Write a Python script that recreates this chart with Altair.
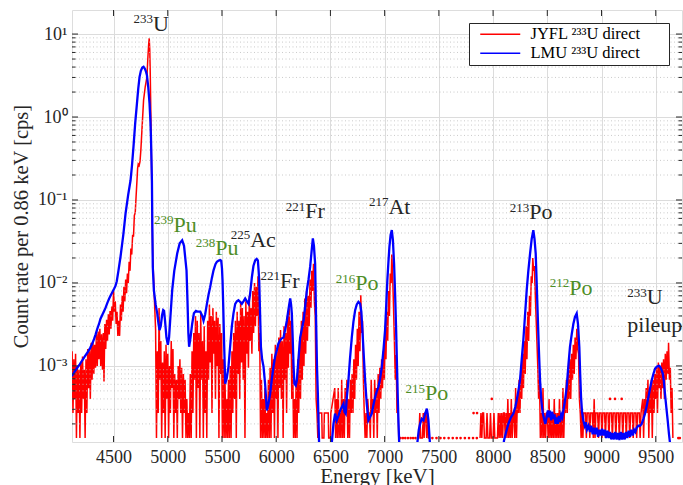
import altair as alt
import pandas as pd

FONT = "Liberation Serif"
RED = "#ff0000"
BLUE = "#0000ff"
GREEN = "#4d8d26"
INK = "#262626"

W, H = 610, 432
XDOM = [4117, 9742]
YDOM = [1.21e-4, 19.5]

series_names = ["JYFL ²³³U direct", "LMU ²³³U direct"]

# ---------------- JYFL (red) spectrum, (energy keV, rate cps) ----------------
red_seg1 = [
    (4118, 1.5e-3), (4126, 2.7e-4), (4134, 1.2e-3), (4142, 4.0e-4), (4150, 1.4e-3), (4158, 1.35e-4),
    (4166, 1.0e-3), (4174, 2.7e-4), (4182, 9.0e-4), (4190, 1.35e-4), (4198, 1.1e-3), (4206, 2.7e-4),
    (4214, 1.3e-3), (4222, 4.0e-4), (4230, 9.0e-4), (4238, 1.35e-4), (4246, 1.2e-3), (4254, 2.7e-4),
    (4262, 1.6e-3), (4270, 5.4e-4), (4278, 1.5e-3), (4286, 4.0e-4), (4294, 1.9e-3), (4302, 6.8e-4),
    (4310, 2.0e-3), (4318, 8.0e-4), (4326, 1.8e-3), (4334, 9.5e-4), (4342, 2.4e-3), (4350, 1.0e-3),
    (4358, 2.6e-3), (4366, 1.2e-3), (4374, 2.8e-3), (4382, 1.0e-3), (4390, 2.4e-3), (4398, 9.0e-4),
    (4406, 2.5e-3), (4412, 6.5e-4), (4420, 3.2e-3), (4428, 1.6e-3), (4436, 3.6e-3), (4444, 2.0e-3),
    (4452, 4.2e-3), (4460, 2.4e-3), (4468, 4.6e-3), (4476, 2.8e-3), (4484, 5.2e-3), (4492, 3.5e-3),
    (4500, 8.0e-3), (4508, 4.5e-3), (4516, 6.0e-3), (4524, 3.2e-3), (4532, 4.5e-3), (4540, 2.3e-3),
    (4548, 3.5e-3), (4556, 2.3e-3), (4564, 5.5e-3), (4572, 3.5e-3), (4580, 7.0e-3), (4588, 4.5e-3),
    (4596, 9.0e-3), (4604, 6.0e-3), (4612, 1.1e-2), (4620, 7.5e-3), (4628, 1.3e-2), (4636, 1.0e-2),
    (4644, 1.8e-2), (4652, 1.4e-2), (4660, 2.6e-2), (4668, 2.2e-2), (4676, 3.8e-2), (4684, 3.6e-2),
    (4692, 6.5e-2), (4700, 7.0e-2), (4708, 0.11), (4716, 0.17), (4722, 0.24), (4728, 0.27),
    (4736, 0.26), (4744, 0.29), (4752, 0.4), (4762, 0.7), (4777, 1.6), (4792, 2.3), (4808, 3.05),
    (4817, 5.3), (4824, 7.5), (4829, 8.9), (4834, 6.5), (4838, 3.7), (4845, 0.92), (4851, 0.23),
    (4856, 0.06), (4862, 0.02), (4870, 0.011), (4880, 5.0e-3), (4888, 2.7e-3),
    (4896, 1.35e-4), (4904, 1.5e-3), (4912, 2.7e-4), (4920, 5.0e-3), (4928, 6.8e-4), (4936, 2.0e-3),
    (4944, 1.35e-4), (4952, 1.1e-3), (4960, 2.7e-4), (4968, 1.5e-3), (4976, 1.35e-4), (4984, 1.8e-3),
    (4992, 4.0e-4), (5000, 1.4e-3), (5008, 1.35e-4), (5016, 1.0e-3), (5024, 2.7e-4), (5032, 2.0e-3),
    (5040, 5.4e-4), (5048, 1.6e-3), (5056, 1.35e-4), (5064, 8.0e-4), (5072, 2.7e-4), (5080, 6.8e-4),
    (5088, 1.35e-4), (5096, 1.0e-3), (5104, 4.0e-4), (5112, 1.2e-3), (5120, 2.7e-4), (5128, 9.5e-4),
    (5136, 1.35e-4), (5144, 8.0e-4), (5152, 2.7e-4), (5160, 6.8e-4), (5168, 1.35e-4), (5176, 4.0e-4),
    (5184, 1.35e-4), (5192, 2.7e-4), (5200, 1.35e-4), (5208, 8.0e-4), (5216, 1.35e-4), (5224, 1.5e-3),
    (5232, 2.7e-4), (5240, 2.5e-3), (5248, 6.8e-4), (5256, 4.0e-3), (5264, 1.35e-4), (5272, 3.5e-3),
    (5280, 5.4e-4), (5288, 2.5e-3), (5296, 1.35e-4), (5304, 4.3e-3), (5312, 6.8e-4), (5320, 2.0e-3),
    (5328, 1.35e-4), (5336, 3.0e-3), (5344, 2.7e-4), (5352, 1.5e-3), (5360, 1.35e-4), (5368, 3.5e-3),
    (5376, 6.8e-4), (5384, 5.5e-3), (5392, 1.1e-3), (5400, 4.0e-3), (5408, 2.7e-4), (5416, 5.0e-3),
    (5424, 1.4e-3), (5432, 3.5e-3), (5440, 4.0e-4), (5448, 4.5e-3), (5456, 1.0e-3), (5464, 3.8e-3),
    (5472, 1.35e-4), (5480, 3.2e-3), (5488, 8.0e-4), (5496, 2.5e-3), (5504, 1.35e-4), (5512, 1.2e-3),
    (5520, 1.35e-4), (5528, 6.8e-4), (5536, 1.35e-4), (5544, 4.0e-4), (5552, 1.35e-4), (5560, 6.8e-4),
    (5568, 1.35e-4), (5576, 1.0e-3), (5584, 1.35e-4), (5592, 1.5e-3), (5600, 2.7e-4), (5608, 2.5e-3),
    (5616, 4.0e-4), (5624, 3.5e-3), (5632, 1.35e-4), (5640, 4.5e-3), (5648, 8.0e-4), (5656, 3.5e-3),
    (5664, 4.0e-4), (5672, 6.0e-3), (5680, 1.1e-3), (5688, 5.0e-3), (5696, 6.8e-4), (5704, 4.0e-3),
    (5712, 1.35e-4), (5720, 6.0e-3), (5728, 1.4e-3), (5736, 4.5e-3), (5744, 9.5e-4), (5752, 7.0e-3),
    (5760, 2.0e-3), (5768, 5.0e-3), (5776, 1.4e-3), (5784, 8.0e-3), (5792, 2.5e-3), (5800, 1.0e-2),
    (5808, 3.0e-3), (5816, 9.0e-3), (5824, 4.0e-3), (5832, 1.2e-2), (5840, 1.5e-3), (5848, 2.5e-3),
    (5856, 1.35e-4), (5864, 6.8e-4), (5872, 1.35e-4), (5880, 4.0e-4), (5888, 1.35e-4), (5896, 5.4e-4),
    (5904, 1.35e-4), (5912, 2.7e-4), (5920, 1.35e-4), (5928, 6.8e-4), (5936, 1.35e-4), (5944, 9.5e-4),
    (5952, 1.35e-4), (5960, 1.4e-3), (5968, 2.7e-4), (5976, 1.2e-3), (5984, 1.35e-4), (5992, 1.8e-3),
    (6000, 4.0e-4), (6008, 1.5e-3), (6016, 1.35e-4), (6024, 2.2e-3), (6032, 5.4e-4), (6040, 2.7e-3),
    (6048, 4.0e-4), (6056, 2.0e-3), (6064, 1.35e-4), (6072, 3.0e-3), (6080, 6.8e-4), (6088, 2.5e-3),
    (6096, 2.7e-4), (6104, 4.0e-3), (6112, 9.5e-4), (6120, 5.5e-3), (6128, 1.4e-3), (6136, 3.5e-3),
    (6144, 4.0e-4), (6152, 1.2e-3), (6160, 1.35e-4), (6168, 4.0e-4), (6176, 1.35e-4), (6184, 6.8e-4),
    (6192, 1.35e-4), (6200, 1.2e-3), (6208, 2.7e-4), (6216, 2.0e-3), (6224, 4.0e-4), (6232, 3.5e-3),
    (6240, 6.8e-4), (6248, 4.5e-3), (6256, 1.0e-3), (6264, 6.5e-3), (6272, 1.4e-3), (6280, 8.0e-3),
    (6288, 2.0e-3), (6296, 7.0e-3), (6304, 3.0e-3), (6312, 1.1e-2), (6320, 5.0e-3), (6328, 1.4e-2),
    (6336, 8.0e-3), (6344, 1.7e-2), (6352, 6.0e-3), (6360, 4.0e-3), (6368, 4.0e-4), (6376, 2.7e-4),
    (6384, 1.35e-4), (6392, 2.7e-4), (6420, 2.7e-4), (6424, 1.35e-4), (6440, 1.35e-4), (6444, 2.7e-4),
    (6480, 2.7e-4), (6484, 1.35e-4), (6500, 1.35e-4), (6504, 2.7e-4), (6540, 5.4e-4), (6548, 1.35e-4),
    (6556, 4.0e-4), (6564, 1.35e-4), (6572, 5.4e-4), (6580, 1.35e-4), (6588, 2.7e-4), (6596, 1.35e-4),
    (6604, 6.8e-4), (6612, 1.35e-4), (6620, 4.0e-4), (6628, 1.35e-4), (6636, 5.4e-4), (6644, 2.7e-4),
    (6652, 6.8e-4), (6660, 1.35e-4), (6668, 4.0e-4), (6676, 1.35e-4), (6684, 6.8e-4), (6692, 2.7e-4),
    (6700, 8.0e-4), (6708, 2.7e-4), (6716, 1.2e-3), (6724, 4.0e-4), (6732, 1.8e-3), (6740, 6.8e-4),
    (6748, 2.8e-3), (6756, 1.0e-3), (6764, 4.5e-3), (6772, 1.5e-3), (6780, 7.1e-3), (6788, 2.5e-3),
    (6796, 3.5e-3), (6804, 6.8e-4), (6812, 2.7e-4), (6820, 1.35e-4), (6828, 2.7e-4), (6836, 1.35e-4),
    (6844, 4.0e-4), (6852, 2.7e-4), (6860, 2.7e-4), (6868, 1.35e-4), (6876, 6.8e-4), (6884, 2.7e-4),
    (6892, 4.0e-4), (6900, 1.35e-4), (6908, 6.8e-4), (6916, 2.7e-4), (6924, 5.4e-4), (6932, 1.35e-4),
    (6940, 8.0e-4), (6948, 2.7e-4), (6956, 9.5e-4), (6964, 4.0e-4), (6972, 1.2e-3), (6980, 5.4e-4),
    (6988, 1.5e-3), (6996, 6.8e-4), (7004, 2.5e-3), (7012, 1.2e-3), (7020, 4.5e-3), (7028, 2.0e-3),
    (7036, 8.0e-3), (7044, 4.0e-3), (7052, 1.3e-2), (7060, 1.0e-2), (7066, 2.2e-2), (7074, 1.2e-2),
    (7082, 5.0e-3), (7090, 2.0e-3), (7098, 6.8e-4), (7106, 1.35e-3), (7114, 2.7e-4), (7122, 4.0e-4),
    (7130, 1.35e-4), (7138, 1.35e-4),
]
red_seg2 = [
    (7300, 1.35e-4), (7316, 1.35e-4), (7324, 2.7e-4), (7332, 1.35e-4), (7348, 1.35e-4), (7356, 2.7e-4),
    (7364, 1.35e-4), (7372, 2.7e-4), (7380, 2.7e-4), (7388, 1.35e-4), (7396, 2.7e-4), (7404, 1.35e-4),
    (7420, 1.35e-4),
]
red_seg3 = [
    (7880, 1.35e-4), (7888, 2.7e-4), (7896, 1.35e-4), (7904, 2.7e-4), (7912, 2.7e-4), (7920, 1.35e-4),
    (7936, 1.35e-4), (7944, 2.7e-4), (7952, 1.35e-4), (7968, 1.35e-4), (7976, 2.7e-4), (7984, 1.35e-4),
    (8000, 1.35e-4), (8008, 2.7e-4), (8016, 1.35e-4), (8040, 1.35e-4), (8048, 2.7e-4), (8056, 1.35e-4),
    (8064, 2.7e-4), (8072, 1.35e-4), (8080, 2.7e-4), (8088, 1.35e-4), (8096, 2.7e-4), (8104, 2.7e-4),
    (8112, 1.35e-4), (8120, 2.7e-4), (8128, 1.35e-4), (8136, 4.0e-4), (8144, 1.35e-4), (8152, 2.7e-4),
    (8160, 1.35e-4), (8168, 4.0e-4), (8176, 1.35e-4), (8184, 2.7e-4), (8192, 2.7e-4), (8200, 1.35e-4),
    (8208, 5.4e-4), (8216, 1.35e-4), (8224, 4.0e-4), (8232, 2.7e-4), (8240, 6.8e-4), (8248, 2.7e-4),
    (8256, 9.5e-4), (8264, 4.0e-4), (8272, 1.4e-3), (8280, 5.4e-4), (8288, 2.0e-3), (8296, 8.0e-4),
    (8304, 3.0e-3), (8312, 1.2e-3), (8320, 4.5e-3), (8328, 2.0e-3), (8336, 7.0e-3), (8344, 4.0e-3),
    (8352, 1.2e-2), (8360, 1.0e-2), (8366, 2.0e-2), (8374, 1.4e-2), (8380, 1.6e-2), (8388, 8.0e-3),
    (8396, 4.0e-3), (8404, 2.0e-3), (8412, 1.0e-3), (8420, 4.0e-4), (8428, 6.8e-4), (8436, 1.35e-4),
    (8444, 2.7e-4), (8452, 1.35e-4), (8460, 5.4e-4), (8468, 1.35e-4), (8476, 2.7e-4), (8484, 1.35e-4),
    (8492, 2.7e-4), (8500, 2.7e-4), (8508, 1.35e-4), (8516, 4.0e-4), (8524, 1.35e-4), (8532, 2.7e-4),
    (8540, 1.35e-4), (8548, 2.7e-4), (8556, 1.35e-4), (8564, 4.0e-4), (8572, 1.35e-4), (8580, 2.7e-4),
    (8588, 1.35e-4), (8596, 2.7e-4), (8604, 1.35e-4), (8612, 4.0e-4), (8620, 1.35e-4), (8628, 2.7e-4),
    (8636, 1.35e-4), (8644, 5.4e-4), (8652, 1.35e-4), (8660, 4.0e-4), (8668, 2.7e-4), (8676, 6.8e-4),
    (8684, 2.7e-4), (8692, 9.5e-4), (8700, 4.0e-4), (8708, 1.2e-3), (8716, 4.0e-4), (8724, 1.4e-3),
    (8732, 6.8e-4), (8740, 1.8e-3), (8748, 8.0e-4), (8756, 2.2e-3), (8764, 1.2e-3), (8772, 2.8e-3),
    (8780, 1.6e-3), (8788, 1.4e-3), (8796, 4.0e-4), (8804, 2.7e-4), (8812, 1.35e-4), (8820, 2.7e-4),
    (8828, 1.35e-4), (8836, 2.7e-4), (8852, 2.7e-4), (8860, 1.35e-4), (8868, 2.7e-4), (8884, 2.7e-4),
    (8892, 1.35e-4), (8900, 2.7e-4), (8916, 2.7e-4), (8924, 1.35e-4), (8932, 4.0e-4), (8940, 1.35e-4),
    (8948, 2.7e-4), (8964, 2.7e-4), (8972, 1.35e-4), (8980, 2.7e-4), (8996, 2.7e-4), (9004, 1.35e-4),
    (9012, 2.7e-4), (9028, 2.7e-4), (9036, 1.35e-4), (9044, 2.7e-4), (9060, 2.7e-4), (9068, 1.35e-4),
    (9076, 2.7e-4), (9092, 2.7e-4), (9100, 1.35e-4), (9108, 2.7e-4), (9124, 2.7e-4), (9132, 1.35e-4),
    (9140, 2.7e-4), (9156, 2.7e-4), (9164, 1.35e-4), (9172, 2.7e-4), (9188, 2.7e-4), (9196, 1.35e-4),
    (9204, 2.7e-4), (9220, 2.7e-4), (9228, 1.35e-4), (9236, 2.7e-4), (9252, 2.7e-4), (9260, 1.35e-4),
    (9268, 2.7e-4), (9284, 2.7e-4), (9292, 1.35e-4), (9300, 2.7e-4), (9316, 2.7e-4), (9324, 1.35e-4),
    (9332, 2.7e-4), (9348, 2.7e-4), (9356, 1.35e-4), (9364, 2.7e-4), (9380, 4.0e-4), (9388, 1.35e-4),
    (9396, 4.0e-4), (9404, 2.7e-4), (9412, 5.4e-4), (9420, 2.7e-4), (9428, 6.8e-4), (9436, 1.35e-4),
    (9444, 5.4e-4), (9452, 2.7e-4), (9460, 6.8e-4), (9468, 1.35e-4), (9476, 6.8e-4), (9484, 2.7e-4),
    (9492, 8.0e-4), (9500, 4.0e-4), (9508, 9.5e-4), (9516, 2.7e-4), (9524, 1.1e-3), (9532, 5.4e-4),
    (9540, 1.0e-3), (9548, 4.0e-4), (9556, 1.1e-3), (9564, 5.4e-4), (9572, 1.2e-3), (9580, 4.0e-4),
    (9588, 1.4e-3), (9596, 6.8e-4), (9604, 1.5e-3), (9612, 8.0e-4), (9618, 1.9e-3), (9626, 6.8e-4),
    (9634, 9.5e-4), (9642, 2.7e-4), (9650, 5.4e-4), (9658, 1.35e-4),
]
# isolated single-count bins of the JYFL spectrum
red_dots = [
    (7146, 1.35e-4), (7168, 1.35e-4), (7190, 1.35e-4), (7215, 1.35e-4), (7240, 1.35e-4), (7262, 1.35e-4),
    (7284, 1.35e-4), (7440, 1.35e-4), (7478, 1.35e-4), (7515, 1.35e-4), (7550, 1.35e-4), (7590, 1.35e-4),
    (7628, 1.35e-4), (7665, 1.35e-4), (7700, 1.35e-4), (7740, 1.35e-4), (7778, 1.35e-4), (7815, 1.35e-4),
    (7850, 1.35e-4), (7820, 2.7e-4), (7852, 2.7e-4), (7988, 4.0e-4), (9078, 4.0e-4), (9124, 4.0e-4),
    (9186, 4.0e-4), (9708, 1.35e-4), (9722, 1.35e-4),
]

# ---------------- LMU (blue) spectrum ----------------
blue_seg1 = [
    (4115, 7.5e-4), (4140, 8.5e-4), (4165, 9.5e-4), (4190, 1.05e-3), (4212, 1.17e-3), (4235, 1.3e-3),
    (4260, 1.45e-3), (4285, 1.65e-3), (4304, 1.86e-3), (4320, 2.1e-3), (4335, 2.4e-3), (4350, 2.8e-3),
    (4366, 3.2e-3), (4380, 3.7e-3), (4396, 4.1e-3), (4410, 4.5e-3), (4426, 5.0e-3), (4444, 5.8e-3),
    (4460, 6.5e-3), (4472, 7.0e-3), (4490, 7.8e-3), (4505, 8.5e-3), (4518, 9.2e-3), (4530, 1.05e-2),
    (4545, 1.4e-2), (4565, 2.1e-2), (4590, 3.8e-2), (4611, 6.9e-2), (4635, 0.115), (4657, 0.173),
    (4670, 0.26), (4684, 0.44), (4700, 0.85), (4716, 1.46), (4728, 2.2), (4740, 3.05), (4752, 3.6),
    (4765, 3.95), (4777, 4.04), (4790, 3.8), (4800, 3.5), (4808, 3.2), (4820, 2.3), (4832, 1.46),
    (4840, 0.9), (4845, 0.58), (4850, 0.3), (4854, 0.17), (4858, 0.045), (4862, 0.0156), (4872, 8.2e-3),
    (4888, 5.5e-3), (4903, 4.3e-3), (4915, 3.2e-3), (4924, 2.7e-3), (4935, 3.0e-3), (4948, 4.1e-3),
    (4958, 4.7e-3), (4966, 4.6e-3), (4975, 3.5e-3), (4988, 2.2e-3), (5001, 1.8e-3), (5012, 2.2e-3),
    (5025, 4.0e-3), (5041, 8.2e-3), (5060, 1.4e-2), (5087, 2.26e-2), (5110, 3.0e-2), (5133, 3.27e-2),
    (5150, 2.8e-2), (5165, 1.8e-2), (5173, 1.42e-2), (5182, 6.0e-3), (5190, 2.5e-3), (5197, 1.7e-3),
    (5210, 2.2e-3), (5225, 3.2e-3), (5241, 4.3e-3), (5260, 4.6e-3), (5280, 4.5e-3), (5300, 4.5e-3),
    (5318, 4.0e-3), (5330, 3.5e-3), (5345, 4.2e-3), (5361, 5.6e-3), (5376, 7.2e-3), (5391, 8.9e-3),
    (5407, 1.15e-2), (5422, 1.42e-2), (5440, 1.68e-2), (5453, 1.8e-2), (5470, 1.86e-2), (5485, 1.89e-2),
    (5493, 1.85e-2), (5500, 1.5e-2), (5505, 1.08e-2), (5512, 5.0e-3), (5520, 1.8e-3), (5530, 6.1e-4),
    (5545, 7.2e-4), (5560, 9.8e-4), (5575, 1.7e-3), (5591, 3.0e-3), (5606, 4.3e-3), (5622, 5.6e-3),
    (5637, 6.0e-3), (5652, 6.2e-3), (5668, 5.9e-3), (5683, 5.6e-3), (5698, 6.0e-3), (5714, 6.5e-3),
    (5730, 6.0e-3), (5745, 5.6e-3), (5760, 7.5e-3), (5776, 1.18e-2), (5790, 1.6e-2), (5806, 1.87e-2),
    (5820, 1.95e-2), (5831, 1.87e-2), (5838, 1.4e-2), (5843, 1.08e-2), (5850, 5.0e-3), (5859, 1.7e-3),
    (5870, 1.2e-3), (5883, 9.8e-4), (5898, 6.0e-4), (5914, 2.9e-4), (5928, 3.5e-4), (5944, 4.6e-4),
    (5960, 7.0e-4), (5975, 9.8e-4), (5990, 1.3e-3), (6006, 1.55e-3), (6020, 1.85e-3), (6036, 2.04e-3),
    (6052, 2.15e-3), (6067, 2.2e-3), (6082, 2.7e-3), (6098, 3.5e-3), (6113, 4.8e-3), (6129, 6.5e-3),
    (6137, 5.5e-3), (6144, 4.3e-3), (6152, 2.2e-3), (6160, 1.0e-3), (6168, 6.1e-4), (6180, 5.8e-4),
    (6190, 6.6e-4), (6205, 1.2e-3), (6221, 2.2e-3), (6237, 2.8e-3), (6252, 3.5e-3), (6267, 5.2e-3),
    (6283, 8.2e-3), (6298, 1.1e-2), (6313, 1.56e-2), (6325, 2.3e-2), (6338, 3.44e-2), (6348, 2.8e-2),
    (6359, 1.7e-2), (6368, 3.5e-3), (6376, 1.0e-3), (6384, 4.6e-4), (6390, 2.2e-4), (6396, 1.1e-4),
    (6402, 8.0e-5),
]
blue_seg2 = [
    (6505, 8.0e-5), (6513, 1.2e-4), (6528, 2.0e-4), (6543, 2.66e-4), (6558, 2.2e-4), (6574, 2.5e-4),
    (6590, 2.9e-4), (6605, 3.2e-4), (6620, 3.5e-4), (6630, 2.8e-4), (6641, 2.66e-4), (6650, 4.0e-4),
    (6666, 6.7e-4), (6680, 1.2e-3), (6697, 2.2e-3), (6712, 3.4e-3), (6728, 4.7e-3), (6743, 5.5e-3),
    (6758, 5.9e-3), (6774, 5.6e-3), (6785, 4.5e-3), (6795, 2.7e-3), (6808, 1.3e-3), (6820, 6.7e-4),
    (6835, 3.5e-4), (6850, 2.2e-4), (6865, 2.4e-4), (6881, 2.66e-4), (6897, 3.4e-4), (6912, 4.2e-4),
    (6927, 4.9e-4), (6943, 5.6e-4), (6958, 7.0e-4), (6974, 9.8e-4), (6990, 1.6e-3), (7004, 2.7e-3),
    (7015, 5.5e-3), (7025, 1.08e-2), (7035, 1.8e-2), (7044, 2.72e-2), (7055, 3.8e-2), (7066, 4.33e-2),
    (7076, 3.3e-2), (7087, 1.7e-2), (7097, 7.0e-3), (7106, 2.7e-3), (7114, 1.0e-3), (7121, 4.2e-4),
    (7128, 2.0e-4), (7135, 1.1e-4), (7140, 8.0e-5),
]
blue_seg3 = [
    (7296, 8.0e-5), (7302, 1.2e-4), (7315, 1.7e-4), (7327, 2.0e-4), (7342, 2.3e-4), (7358, 2.2e-4),
    (7372, 2.6e-4), (7389, 3.05e-4), (7397, 2.6e-4), (7404, 2.2e-4), (7412, 1.5e-4), (7419, 1.1e-4),
    (7425, 8.0e-5),
]
blue_seg4 = [
    (8090, 8.0e-5), (8100, 1.25e-4), (8120, 1.6e-4), (8141, 2.0e-4), (8165, 2.4e-4), (8187, 2.66e-4),
    (8205, 3.2e-4), (8218, 3.85e-4), (8233, 5.0e-4), (8248, 6.7e-4), (8264, 1.2e-3), (8279, 2.04e-3),
    (8294, 4.0e-3), (8310, 8.2e-3), (8325, 1.4e-2), (8341, 2.26e-2), (8356, 3.4e-2), (8371, 4.33e-2),
    (8382, 3.4e-2), (8393, 2.26e-2), (8402, 1.0e-2), (8411, 4.3e-3), (8422, 1.6e-3), (8433, 6.7e-4),
    (8445, 3.8e-4), (8458, 2.66e-4), (8470, 2.3e-4), (8482, 2.0e-4), (8494, 2.4e-4), (8505, 2.9e-4),
    (8515, 2.4e-4), (8525, 2.9e-4), (8535, 2.2e-4), (8545, 2.8e-4), (8556, 2.3e-4), (8566, 2.6e-4),
    (8576, 2.0e-4), (8586, 2.4e-4), (8596, 2.0e-4), (8607, 2.5e-4), (8617, 2.1e-4), (8628, 2.6e-4),
    (8638, 2.4e-4), (8648, 2.9e-4), (8663, 3.8e-4), (8679, 5.6e-4), (8694, 1.0e-3), (8709, 1.7e-3),
    (8725, 2.4e-3), (8740, 3.2e-3), (8755, 3.9e-3), (8771, 4.3e-3), (8783, 3.2e-3), (8795, 1.7e-3),
    (8803, 8.0e-4), (8811, 4.2e-4), (8820, 2.8e-4), (8832, 2.2e-4), (8845, 1.9e-4), (8855, 2.1e-4),
    (8865, 1.7e-4), (8880, 1.9e-4), (8894, 1.6e-4), (8905, 1.9e-4), (8918, 1.5e-4), (8930, 1.8e-4),
    (8942, 1.5e-4), (8955, 1.8e-4), (8968, 1.4e-4), (8980, 1.7e-4), (8993, 1.45e-4), (9005, 1.75e-4),
    (9017, 1.45e-4), (9030, 1.7e-4), (9042, 1.35e-4), (9055, 1.65e-4), (9067, 1.35e-4), (9078, 1.6e-4),
    (9090, 1.3e-4), (9102, 1.55e-4), (9115, 1.3e-4), (9127, 1.6e-4), (9140, 1.3e-4), (9152, 1.55e-4),
    (9165, 1.28e-4), (9177, 1.6e-4), (9190, 1.3e-4), (9201, 1.55e-4), (9214, 1.3e-4), (9226, 1.6e-4),
    (9238, 1.35e-4), (9250, 1.65e-4), (9263, 1.4e-4), (9275, 1.7e-4), (9288, 1.45e-4), (9300, 1.7e-4),
    (9312, 1.6e-4), (9324, 1.8e-4), (9340, 1.9e-4), (9355, 1.9e-4), (9370, 2.0e-4), (9386, 2.3e-4),
    (9401, 2.66e-4), (9417, 3.3e-4), (9432, 4.2e-4), (9447, 5.3e-4), (9463, 6.7e-4), (9478, 8.0e-4),
    (9494, 9.3e-4), (9510, 9.8e-4), (9524, 1.0e-3), (9534, 1.0e-3), (9545, 9.5e-4), (9555, 8.8e-4),
    (9565, 8.1e-4), (9575, 6.5e-4), (9585, 4.6e-4), (9597, 3.2e-4), (9610, 2.2e-4), (9622, 1.5e-4),
    (9634, 1.1e-4), (9640, 8.0e-5),
]

# ---------------- peak annotations (mass number, element, energy, rate) ----------------
black_labels = [
    ("233", "U", 4863, 10.96), ("225", "Ac", 5760, 0.0272), ("221", "Fr", 6036, 0.0088),
    ("221", "Fr", 6267, 0.0599), ("217", "At", 7035, 0.0687), ("213", "Po", 8334, 0.0582),
    ("233", "U", 9416, 0.00553),
]
green_labels = [
    ("239", "Pu", 5053, 0.0412), ("238", "Pu", 5437, 0.0216), ("216", "Po", 6728, 0.00816),
    ("215", "Po", 7373, 3.85e-4), ("212", "Po", 8703, 0.00724),
]
plain_labels = [("pileup", 9238, 0.00257)]

x_major = [4500, 5000, 5500, 6000, 6500, 7000, 7500, 8000, 8500, 9000, 9500]
y_major = [1e-3, 1e-2, 1e-1, 1.0, 10.0]
y_minor = [m * d for d in [1e-4, 1e-3, 1e-2, 1e-1, 1.0] for m in range(2, 10)]
y_exp_labels = ["10⁻³", "10⁻²", "10⁻¹", "10⁰", "10¹"]

# ---------------- build tables ----------------
rows = []
for seg, pts in [("r1", red_seg1), ("r2", red_seg2), ("r3", red_seg3)]:
    for e, v in pts:
        rows.append({"series": series_names[0], "seg": seg, "E": e, "rate": v})
for seg, pts in [("b1", blue_seg1), ("b2", blue_seg2), ("b3", blue_seg3), ("b4", blue_seg4)]:
    for e, v in pts:
        rows.append({"series": series_names[1], "seg": seg, "E": e, "rate": v})
spec = pd.DataFrame(rows)
red_df = spec[spec.series == series_names[0]]
blue_df = spec[spec.series == series_names[1]]
dots_df = pd.DataFrame(red_dots, columns=["E", "rate"])
black_df = pd.DataFrame(black_labels, columns=["mass", "elem", "E", "rate"])
green_df = pd.DataFrame(green_labels, columns=["mass", "elem", "E", "rate"])
plain_df = pd.DataFrame(plain_labels, columns=["txt", "E", "rate"])
xt_df = pd.DataFrame({"E": x_major})
ymaj_df = pd.DataFrame({"rate": y_major})
ymin_df = pd.DataFrame({"rate": [v for v in y_minor if YDOM[0] <= v <= YDOM[1]]})

xs = alt.Scale(domain=XDOM, nice=False, zero=False)
ys = alt.Scale(type="log", domain=YDOM, nice=False)
color_scale = alt.Scale(domain=series_names, range=[RED, BLUE])

label_js = "[" + ",".join("'%s'" % s for s in y_exp_labels) + "]"

x_axis = alt.Axis(
    values=x_major, format="d", title="Energy [keV]", grid=True, gridColor="#dcdcdc", gridWidth=1,
    ticks=False, domain=False, labelFont=FONT, labelFontSize=18, labelColor=INK, labelPadding=6,
    labelOverlap=False, titleFont=FONT, titleFontSize=21, titleFontWeight="normal", titleColor=INK,
    titleBaseline="alphabetic", titleY=40,
)
y_axis = alt.Axis(
    values=y_major, labelExpr=label_js + "[round(log(datum.value)/LN10)+3]",
    title="Count rate per 0.86 keV [cps]", grid=True, gridColor="#dcdcdc", gridWidth=1,
    ticks=False, domain=False, labelFont=FONT, labelFontSize=18, labelColor=INK, labelPadding=5,
    labelOverlap=False, titleFont=FONT, titleFontSize=20.5, titleFontWeight="normal", titleColor=INK,
    titleBaseline="alphabetic", titleX=-45,
)

# trailing em/en spaces widen the box like the reference; a zero-width space keeps them from being trimmed
legend = alt.Legend(
    title=None, orient="top-right", offset=13, fillColor="white", strokeColor=INK,
    padding=3, symbolType="M-5,0L5,0", symbolSize=64, symbolOffset=20, symbolStrokeWidth=1.6,
    labelFont=FONT, labelFontSize=16.5, labelColor="black", labelOffset=22, labelLimit=400,
    labelExpr="datum.label + '\u2003\u2002\u200b'", rowPadding=2,
)

# every layer shares the same scales; only the spectrum layer carries axis settings
X = lambda: alt.X("E:Q", scale=xs)
Y = lambda: alt.Y("rate:Q", scale=ys)

minor_grid = alt.Chart(ymin_df).mark_rule(color="#bdbdbd", strokeWidth=0.8, strokeDash=[1, 2.5]).encode(
    y=Y(), x=alt.value(0), x2=alt.value(W)
)

red_line = alt.Chart(red_df).mark_line(strokeWidth=1.5, clip=True).encode(
    x=alt.X("E:Q", scale=xs, axis=x_axis),
    y=alt.Y("rate:Q", scale=ys, axis=y_axis),
    color=alt.Color("series:N", scale=color_scale, legend=legend),
    detail="seg:N",
    order="E:Q",
)
red_pts = alt.Chart(dots_df).mark_circle(size=7, color=RED, opacity=1, clip=True).encode(x=X(), y=Y())
blue_line = alt.Chart(blue_df).mark_line(strokeWidth=2.3, clip=True).encode(
    x=X(), y=Y(),
    color=alt.Color("series:N", scale=color_scale, legend=legend),
    detail="seg:N",
    order="E:Q",
)

xt_bottom = alt.Chart(xt_df).mark_rule(color=INK, strokeWidth=1).encode(
    x=X(), y=alt.value(H), y2=alt.value(H - 6))
xt_top = alt.Chart(xt_df).mark_rule(color=INK, strokeWidth=1).encode(
    x=X(), y=alt.value(0), y2=alt.value(6))
yt_left = alt.Chart(ymaj_df).mark_rule(color=INK, strokeWidth=1).encode(
    y=Y(), x=alt.value(0), x2=alt.value(6))
yt_right = alt.Chart(ymaj_df).mark_rule(color=INK, strokeWidth=1).encode(
    y=Y(), x=alt.value(W - 6), x2=alt.value(W))
ym_left = alt.Chart(ymin_df).mark_rule(color=INK, strokeWidth=1).encode(
    y=Y(), x=alt.value(0), x2=alt.value(3.5))
ym_right = alt.Chart(ymin_df).mark_rule(color=INK, strokeWidth=1).encode(
    y=Y(), x=alt.value(W - 3.5), x2=alt.value(W))


def labels(df, color):
    mass = alt.Chart(df).mark_text(align="right", baseline="alphabetic", font=FONT, fontSize=13,
                                   dy=-7.7, color=color).encode(x=X(), y=Y(), text="mass:N")
    elem = alt.Chart(df).mark_text(align="left", baseline="alphabetic", font=FONT, fontSize=22,
                                   color=color).encode(x=X(), y=Y(), text="elem:N")
    return [mass, elem]


pileup = alt.Chart(plain_df).mark_text(align="left", baseline="alphabetic", font=FONT, fontSize=22,
                                       color=INK).encode(x=X(), y=Y(), text="txt:N")

chart = alt.layer(
    red_line, minor_grid, red_pts, blue_line,
    xt_bottom, xt_top, yt_left, yt_right, ym_left, ym_right,
    *labels(black_df, INK), *labels(green_df, GREEN), pileup,
).properties(
    width=W, height=H,
    padding={"left": 72, "top": 10, "right": 1, "bottom": 43},
    autosize=alt.AutoSizeParams(type="none"),
).configure_view(stroke=INK, strokeWidth=1).configure(background="white")

chart.save("out.html", embed_options={"renderer": "svg", "actions": False})
